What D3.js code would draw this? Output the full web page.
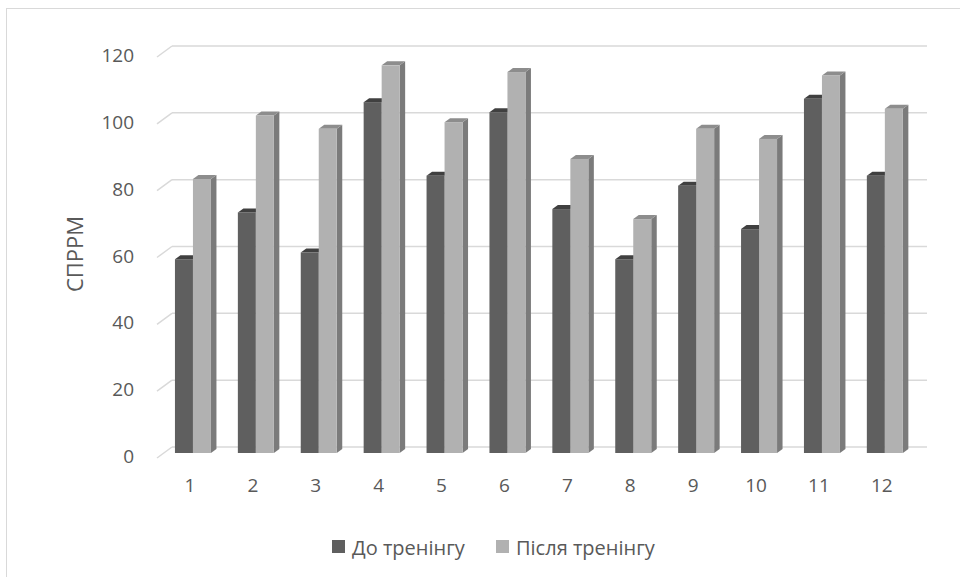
<!DOCTYPE html>
<html>
<head>
<meta charset="utf-8">
<script src="https://cdn.jsdelivr.net/npm/d3@7"></script>
<style>
  html, body { margin: 0; padding: 0; background: #fff; }
  svg { display: block; font-family: "Open Sans", "Noto Sans", sans-serif; }
</style>
</head>
<body>
<svg id="chart" width="960" height="577"></svg>
<script>
// Participants (1..12) and the score before / after the training
const categories = ["1", "2", "3", "4", "5", "6", "7", "8", "9", "10", "11", "12"];
const seriesNames = ["До тренінгу", "Після тренінгу"];
const beforeValues = [58, 72, 60, 105, 83, 102, 73, 58, 80, 67, 106, 83];
const afterValues  = [82, 101, 97, 116, 99, 114, 88, 70, 97, 94, 113, 103];
const yTicks = [0, 20, 40, 60, 80, 100, 120];
const axisTitle = "СПРРМ";

const series = [
  { name: seriesNames[0], values: beforeValues, front: "#5f5f5f", side: "#4b4b4b", top: "#404040" },
  { name: seriesNames[1], values: afterValues,  front: "#b1b1b1", side: "#7b7b7b", top: "#8d8d8d" }
];

const svg = d3.select("#chart");
const textColor = "#595959";
const gridColor = "#d9d9d9";

// chart frame
svg.append("rect")
  .attr("x", 6.5).attr("y", 8.5).attr("width", 970).attr("height", 600)
  .attr("fill", "#fff").attr("stroke", gridColor).attr("stroke-width", 1);

// depth of the 3D walls and of the columns
const wallDX = 15, wallDY = 11;
const barDX = 5.5, barDY = 4;

// back wall value scale and column (front face) value scale
const yBack = d3.scaleLinear().domain([0, 120]).range([447, 46]);
const yBar  = d3.scaleLinear().domain([0, 120]).range([453, 453 - (447 - 46)]);

const x = d3.scaleBand().domain(categories)
  .range([161.5, 916.3]).paddingInner(0.4277).paddingOuter(0.2139);
const xs = d3.scaleBand().domain(seriesNames).range([0, x.bandwidth()]);

// gridlines on the back wall with their slanted side-wall part
const grid = svg.append("g");
yTicks.forEach(t => {
  const y = yBack(t);
  grid.append("line")
    .attr("x1", 172).attr("x2", 927).attr("y1", y).attr("y2", y)
    .attr("stroke", gridColor).attr("stroke-width", 1.5);
  grid.append("line")
    .attr("x1", 172 - wallDX).attr("y1", y + wallDY).attr("x2", 172).attr("y2", y)
    .attr("stroke", gridColor).attr("stroke-width", 1.5);
});

// value axis labels
svg.append("g").selectAll("text").data(yTicks).join("text")
  .attr("x", 134).attr("y", d => yBack(d) + wallDY)
  .attr("text-anchor", "end").attr("dominant-baseline", "middle")
  .attr("fill", textColor).attr("font-size", 19)
  .text(d => d);

// axis title
svg.append("text")
  .attr("transform", "translate(77,254) rotate(-90)")
  .attr("text-anchor", "middle").attr("dominant-baseline", "middle")
  .attr("fill", textColor).attr("font-size", 22)
  .text(axisTitle);

// 3D columns
const bars = svg.append("g");
categories.forEach((c, i) => {
  series.forEach(s => {
    const x0 = x(c) + xs(s.name);
    const w = xs.bandwidth();
    const yt = yBar(s.values[i]);
    const yb = yBar(0);
    const g = bars.append("g");
    g.append("path")
      .attr("d", `M${x0 + w},${yt} L${x0 + w + barDX},${yt - barDY} L${x0 + w + barDX},${yb - barDY} L${x0 + w},${yb} Z`)
      .attr("fill", s.side);
    g.append("path")
      .attr("d", `M${x0},${yt} L${x0 + w},${yt} L${x0 + w + barDX},${yt - barDY} L${x0 + barDX},${yt - barDY} Z`)
      .attr("fill", s.top);
    g.append("rect")
      .attr("x", x0).attr("y", yt).attr("width", w).attr("height", yb - yt)
      .attr("fill", s.front);
  });
});

// category labels
svg.append("g").selectAll("text").data(categories).join("text")
  .attr("x", d => x(d) + x.bandwidth() / 2 - 3)
  .attr("y", 492)
  .attr("text-anchor", "middle")
  .attr("fill", textColor).attr("font-size", 19)
  .text(d => d);

// legend
const legendX = [332, 496];
const legend = svg.append("g");
series.forEach((s, k) => {
  legend.append("rect")
    .attr("x", legendX[k]).attr("y", 540).attr("width", 13).attr("height", 13)
    .attr("fill", s.front);
  legend.append("text")
    .attr("x", legendX[k] + 20).attr("y", 555)
    .attr("fill", textColor).attr("font-size", 20)
    .text(s.name);
});
</script>
</body>
</html>
